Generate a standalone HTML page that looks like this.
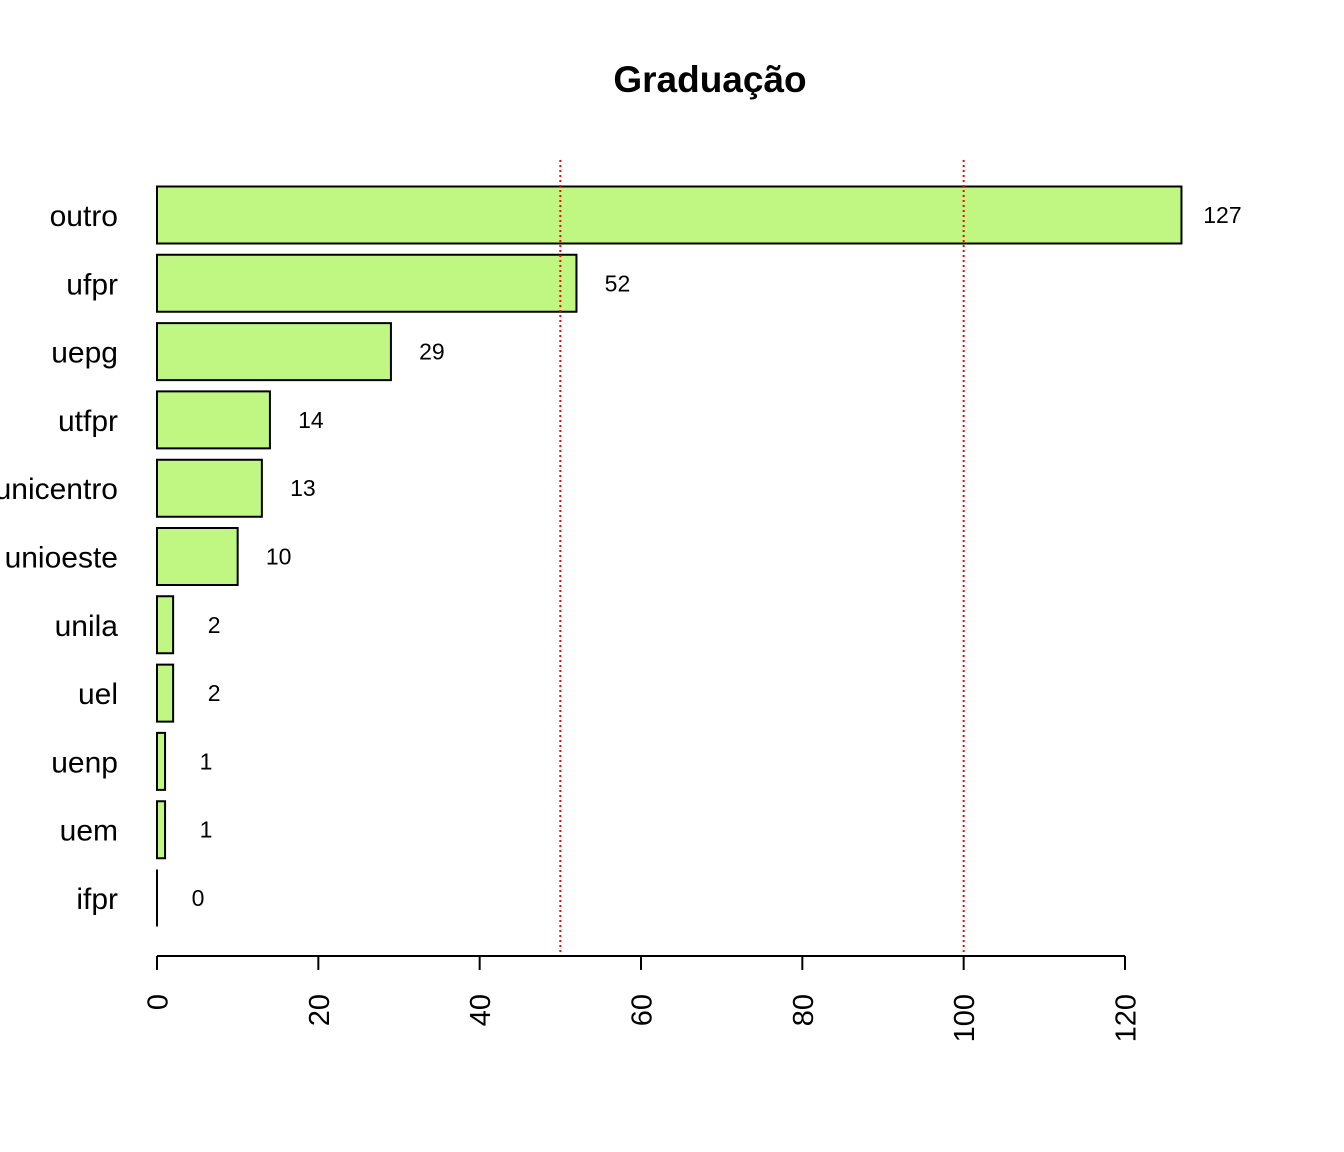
<!DOCTYPE html>
<html><head><meta charset="utf-8"><style>
html,body{margin:0;padding:0;background:#fff;}
svg{display:block;font-family:"Liberation Sans",Arial,sans-serif;}
</style></head><body>
<svg id="chart" width="1344" height="1152">
<text x="710" y="92" text-anchor="middle" font-size="37" font-weight="bold">Graduação</text>
<g id="bars"></g>
<g id="axis"></g>
</svg>
<script>
const categories = ["outro","ufpr","uepg","utfpr","unicentro","unioeste","unila","uel","uenp","uem","ifpr"];
const values = [127,52,29,14,13,10,2,2,1,1,0];
const xTicks = [0,20,40,60,80,100,120];
const refLines = [50,100];

const NS = "http://www.w3.org/2000/svg";
const x = v => 157 + v * (968/120);
const yc = i => 215 + i * 68.3;
const bars = document.getElementById('bars');
const axis = document.getElementById('axis');
function mk(tag, attrs, parent){const e=document.createElementNS(NS,tag);for(const k in attrs)e.setAttribute(k,attrs[k]);parent.appendChild(e);return e;}

categories.forEach((c,i)=>{
  const x0=x(0), x1=x(values[i]), y0=yc(i)-28.5, y1=yc(i)+28.5;
  const r = mk('path',{d:`M${x0},${y0}H${x1}V${y1}H${x0}Z`,fill:'#c0f782',stroke:'#000','stroke-width':2},bars);
  
  
  const l = mk('text',{x:118,y:yc(i)+11,'text-anchor':'end','font-size':30},bars);
  l.textContent = c;
  
  
  const v = mk('text',{x:x(values[i])+41,y:yc(i)+8,'text-anchor':'middle','font-size':23},bars);
  v.textContent = values[i];
  
  
});
refLines.forEach(r=>{
  const ln = mk('line',{x1:x(r),x2:x(r),y1:160,y2:956,stroke:'#ff0000','stroke-width':2,'stroke-dasharray':'2,3'},bars);
  
  
});
const al = mk('line',{x1:x(xTicks[0]),x2:x(xTicks[xTicks.length-1]),y1:956,y2:956,stroke:'#000','stroke-width':2},axis);


xTicks.forEach(t=>{
  const tk = mk('line',{x1:x(t),x2:x(t),y1:956,y2:970,stroke:'#000','stroke-width':2},axis);
  
  
  const tl = mk('text',{x:0,y:0,'text-anchor':'end','font-size':29,transform:`translate(${x(t)+10.5},994) rotate(-90)`},axis);
  tl.textContent = t;
  
  
});
</script>
</body></html>
